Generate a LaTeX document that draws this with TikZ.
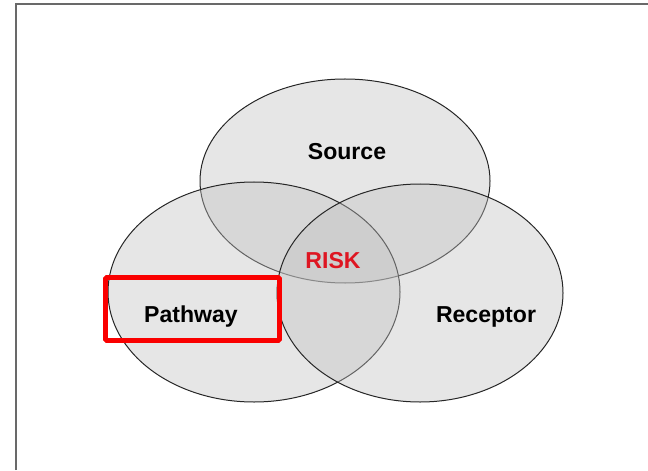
\documentclass[tikz,border=0pt]{standalone}
\usepackage{fontspec}
\setmainfont{Liberation Sans}
\usetikzlibrary{shapes.geometric,positioning}

\definecolor{riskred}{RGB}{222,22,34}
\definecolor{boxred}{RGB}{250,0,0}
\definecolor{framegray}{RGB}{105,105,105}
\definecolor{setgray}{RGB}{192,192,192}

\begin{document}
\begin{tikzpicture}[x=0.75pt,y=-0.75pt,
                    set/.style={ellipse,draw=black!85,line width=0.75pt,fill=setgray,
                                fill opacity=0.4,draw opacity=1,inner sep=0pt},
                    lbl/.style={anchor=base,font=\fontsize{17.3}{20}\selectfont\bfseries},
                    hl/.style={draw=boxred,line width=3.7pt,rounded corners=1pt,inner sep=0pt}]
	  \useasboundingbox (0,0) rectangle (648,470);
	  \draw[framegray,line width=1.5pt] (15.5,470) |- (648,4);

	  % the three sets
	  \node[set,minimum width=217.5pt,minimum height=153pt]   (source)   at (345,181) {};
	  \node[set,minimum width=219pt,minimum height=165pt]     (pathway)  at (254,292) {};
	  \node[set,minimum width=214.5pt,minimum height=163.5pt] (receptor) at (420,293) {};

	  \node[lbl]                (srclbl)  at (347,160) {Source};
	  \node[lbl,text=riskred]   (risk)    at (333,268) {RISK};
	  \node[lbl]                (pathlbl) at (191,322) {Pathway};
	  \node[lbl]                (reclbl)  at (486,322) {Receptor};

	  \node[hl,minimum width=130.5pt,minimum height=47.25pt] (pathbox) at (192.5,309) {};
	\end{tikzpicture}
\end{document}
